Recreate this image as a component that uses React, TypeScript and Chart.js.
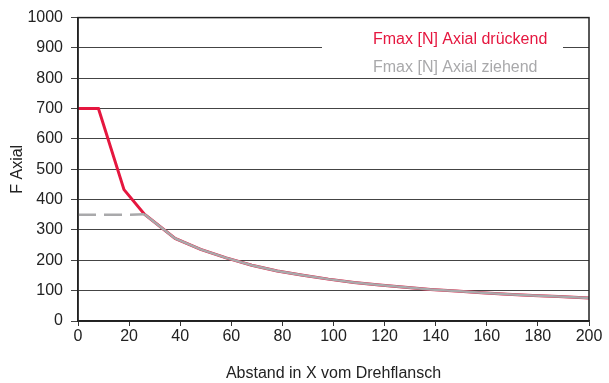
import React, { useEffect, useRef } from "react";
import { Chart, registerables } from "chart.js";

Chart.register(...registerables);

const xValues = [0, 8, 18, 26, 38, 48, 58, 68, 78, 88, 98, 108, 118, 128, 138, 148, 158, 168, 178, 188, 198, 200];
const druckValues = [700, 700, 433, 352, 272, 236, 208, 184, 165, 151, 138, 127, 119, 111, 104, 98.5, 93, 88, 84, 81, 77, 76];
const zugValues = [350, 350, 350, 352, 272, 236, 208, 184, 165, 151, 138, 127, 119, 111, 104, 98.5, 93, 88, 84, 81, 77, 76];
const druckLabel = "Fmax [N] Axial drückend";
const zugLabel = "Fmax [N] Axial ziehend";
const xTitle = "Abstand in X vom Drehflansch";
const yTitle = "F Axial";

const RED = "#E5173F";
const GRAY = "#A9A9AB";
const FONT = "'Liberation Sans', Arial, sans-serif";
const FS = 16;

const framePlugin = {
  id: "frame",
  afterDatasetsDraw(chart: any) {
    const { ctx, chartArea } = chart;
    ctx.save();
    ctx.strokeStyle = "#222";
    ctx.lineWidth = 1.5;
    ctx.strokeRect(chartArea.left, chartArea.top, chartArea.right - chartArea.left, chartArea.bottom - chartArea.top);
    ctx.restore();
  },
};

const legendPlugin = {
  id: "innerLegend",
  afterDraw(chart: any) {
    const { ctx, chartArea } = chart;
    ctx.save();
    ctx.fillStyle = "#fff";
    ctx.fillRect(chartArea.right - 267, chartArea.top + 8, 241, 50);
    ctx.font = `${FS}px ${FONT}`;
    ctx.textAlign = "left";
    ctx.textBaseline = "alphabetic";
    chart.data.datasets.forEach((ds: any, i: number) => {
      ctx.fillStyle = ds.borderColor;
      ctx.fillText(ds.label, chartArea.right - 216, chartArea.top + 26 + i * 28.5);
    });
    ctx.restore();
  },
};

export default function App() {
  const ref = useRef<HTMLCanvasElement>(null);
  useEffect(() => {
    document.body.style.margin = "0";
    const chart = new Chart(ref.current!, {
      type: "line",
      data: {
        datasets: [
          {
            label: druckLabel,
            data: xValues.map((x, i) => ({ x, y: druckValues[i] })),
            borderColor: RED,
            backgroundColor: RED,
            borderWidth: 3,
            pointRadius: 0,
            tension: 0,
            order: 2,
          },
          {
            label: zugLabel,
            data: xValues.map((x, i) => ({ x, y: zugValues[i] })),
            borderColor: GRAY,
            backgroundColor: GRAY,
            borderWidth: 2.5,
            pointRadius: 0,
            tension: 0,
            order: 1,
            segment: {
              borderDash: (c: any) => (c.p1.parsed.x <= 26 ? [18, 8] : undefined),
            },
          },
        ],
      },
      options: {
        animation: false,
        responsive: false,
        layout: { padding: { top: 17, right: 20, left: 0, bottom: 0 } },
        plugins: { legend: { display: false }, tooltip: { enabled: false } },
        scales: {
          x: {
            type: "linear",
            min: 0,
            max: 200,
            afterFit: (s: any) => { s.height = 62; },
            ticks: { stepSize: 20, color: "#222", font: { family: FONT, size: FS }, padding: 1, maxRotation: 0, callback: (v: any) => String(v) },
            grid: { drawOnChartArea: false, drawTicks: true, tickLength: 5, color: "#333" },
            border: { color: "#222", width: 1.5 },
            title: { display: true, text: xTitle, color: "#222", font: { family: FONT, size: FS }, padding: { top: 3.5, bottom: 0 } },
          },
          y: {
            min: 0,
            max: 1000,
            afterFit: (s: any) => { s.width = 78; },
            ticks: { stepSize: 100, color: "#222", font: { family: FONT, size: FS }, padding: 8, callback: (v: any) => String(v) },
            grid: { color: "#444", lineWidth: 1, tickLength: 7, drawTicks: true },
            border: { color: "#222", width: 1.5 },
            title: { display: true, text: yTitle, color: "#222", font: { family: FONT, size: FS }, padding: { top: 8.4, bottom: 0 } },
          },
        },
      },
      plugins: [framePlugin, legendPlugin],
    } as any);
    return () => chart.destroy();
  }, []);
  return <canvas ref={ref} width={609} height={383} />;
}
